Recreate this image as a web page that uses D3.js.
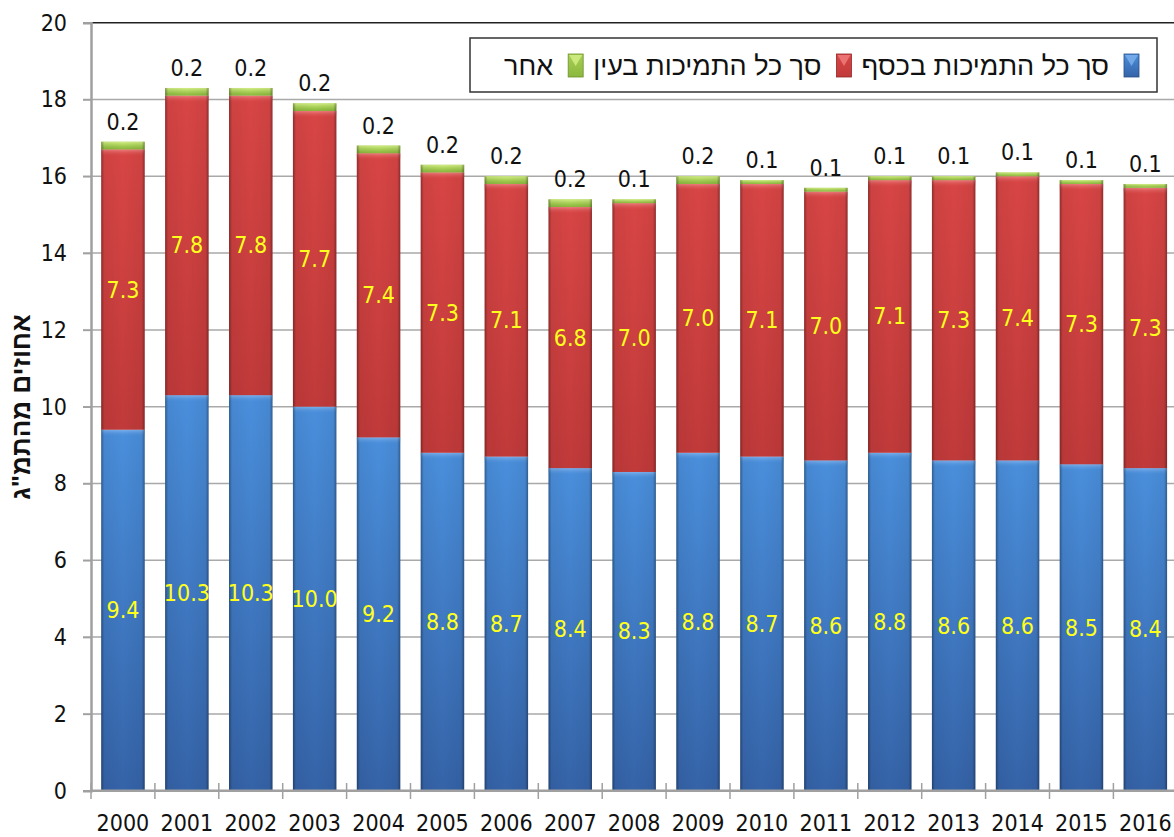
<!DOCTYPE html>
<html><head><meta charset="utf-8">
<script src="https://cdn.jsdelivr.net/npm/d3@7"></script>
<style>body{margin:0;background:#fff}svg{display:block}</style>
</head><body>
<script>
const years = ["2000","2001","2002","2003","2004","2005","2006","2007","2008","2009","2010","2011","2012","2013","2014","2015","2016"];
const cashSupport = [9.4,10.3,10.3,10.0,9.2,8.8,8.7,8.4,8.3,8.8,8.7,8.6,8.8,8.6,8.6,8.5,8.4];
const inKindSupport = [7.3,7.8,7.8,7.7,7.4,7.3,7.1,6.8,7.0,7.0,7.1,7.0,7.1,7.3,7.4,7.3,7.3];
const otherSupport = [0.2,0.2,0.2,0.2,0.2,0.2,0.2,0.2,0.1,0.2,0.1,0.1,0.1,0.1,0.1,0.1,0.1];
const seriesNames = ["סך כל התמיכות בכסף","סך כל התמיכות בעין","אחר"];
const yTicks = [0,2,4,6,8,10,12,14,16,18,20];
const yTitle = "אחוזים מהתמ\"ג";

const W=1174,H=837;
const svg=d3.select("body").append("svg").attr("width",W).attr("height",H);
const defs=svg.append("defs");
const FONT="'DejaVu Sans Condensed', 'DejaVu Sans', Verdana, sans-serif";
const FS=23;
const HEB="'Liberation Sans', Arial, sans-serif";

const x=d3.scaleBand().domain(years).range([91,1177.3]).paddingInner(0.32).paddingOuter(0.16);
const y=d3.scaleLinear().domain([0,20]).range([790.7,22.7]);

const colors=[
  {top:"#4a8fdc",bot:"#3563a8",hi:"#7fb2ee",edge:"#2a4f86"},
  {top:"#d84545",bot:"#c13a3a",hi:"#f08080",edge:"#8e2727"},
  {top:"#a6d052",bot:"#8cb83f",hi:"#d6f08a",edge:"#6c8f2c"}
];
colors.forEach((c,i)=>{
  const g=defs.append("linearGradient").attr("id","v"+i).attr("x1",0).attr("y1",0).attr("x2",0).attr("y2",1);
  g.append("stop").attr("offset","0%").attr("stop-color",c.top);
  g.append("stop").attr("offset","100%").attr("stop-color",c.bot);
  const h=defs.append("linearGradient").attr("id","hl"+i).attr("x1",0).attr("y1",0).attr("x2",0).attr("y2",1);
  h.append("stop").attr("offset","0%").attr("stop-color",c.hi).attr("stop-opacity",0.95);
  h.append("stop").attr("offset","100%").attr("stop-color",c.top).attr("stop-opacity",0);
});
const eg=defs.append("linearGradient").attr("id","edges").attr("x1",0).attr("y1",0).attr("x2",1).attr("y2",0);
[[0,0.35],[0.07,0.05],[0.5,0],[0.93,0.05],[1,0.35]].forEach(([o,a])=>eg.append("stop").attr("offset",o).attr("stop-color","#000").attr("stop-opacity",a));

// gridlines
svg.append("g").selectAll("line").data(yTicks.filter(t=>t>0&&t<20)).join("line")
  .attr("x1",83).attr("x2",W).attr("y1",d=>y(d)).attr("y2",d=>y(d))
  .attr("stroke","#a9a9a9").attr("stroke-width",1.5);
// top border
svg.append("line").attr("x1",91).attr("x2",W).attr("y1",y(20)).attr("y2",y(20)).attr("stroke","#222").attr("stroke-width",1.6);

// y axis
const yAxis=svg.append("g").attr("transform","translate(91,0)")
  .call(d3.axisLeft(y).tickValues(yTicks).tickSize(8).tickPadding(16).tickFormat(d3.format("d")));
yAxis.select(".domain").attr("stroke","#a0a0a0").attr("stroke-width",2.5);
yAxis.selectAll(".tick line").attr("stroke","#a0a0a0").attr("stroke-width",1.5);
yAxis.selectAll(".tick text").attr("font-family",FONT).attr("font-size",FS).attr("fill","#111");

// stacked data
const rows=years.map((yr,i)=>({year:yr,cash:cashSupport[i],kind:inKindSupport[i],other:otherSupport[i]}));
const stack=d3.stack().keys(["cash","kind","other"])(rows);

stack.forEach((layer,si)=>{
  const g=svg.append("g");
  const segs=g.selectAll("g").data(layer).join("g");
  segs.append("rect").attr("x",d=>x(d.data.year)).attr("width",x.bandwidth())
    .attr("y",d=>y(d[1])).attr("height",d=>y(d[0])-y(d[1])).attr("fill",`url(#v${si})`);
  segs.append("rect").attr("x",d=>x(d.data.year)).attr("width",x.bandwidth())
    .attr("y",d=>y(d[1])).attr("height",d=>Math.min(7,y(d[0])-y(d[1]))).attr("fill",`url(#hl${si})`);
  segs.append("rect").attr("x",d=>x(d.data.year)).attr("width",x.bandwidth())
    .attr("y",d=>y(d[1])).attr("height",d=>y(d[0])-y(d[1])).attr("fill","url(#edges)");
});

// labels
const fmt=d3.format(".1f");
[0,1].forEach(si=>{
  svg.append("g").selectAll("text").data(stack[si]).join("text")
    .attr("x",d=>x(d.data.year)+x.bandwidth()/2).attr("y",d=>y((d[0]+d[1])/2))
    .attr("text-anchor","middle").attr("dominant-baseline","central")
    .attr("font-family",FONT).attr("font-size",FS).attr("fill","#ffff1e")
    .text(d=>fmt(d[1]-d[0]));
});
svg.append("g").selectAll("text").data(stack[2]).join("text")
  .attr("x",d=>x(d.data.year)+x.bandwidth()/2).attr("y",d=>y(d[1])-12)
  .attr("text-anchor","middle").attr("font-family",FONT).attr("font-size",FS).attr("fill","#111")
  .text(d=>fmt(d[1]-d[0]));

// x axis
svg.append("line").attr("x1",91).attr("x2",W).attr("y1",y(0)).attr("y2",y(0)).attr("stroke","#a0a0a0").attr("stroke-width",2.5);
const step=x.step();
svg.append("g").selectAll("line").data(years).join("line")
  .attr("x1",d=>x(d)-x.paddingInner()*step/2).attr("x2",d=>x(d)-x.paddingInner()*step/2)
  .attr("y1",783).attr("y2",799).attr("stroke","#a0a0a0").attr("stroke-width",1.5);
svg.append("g").selectAll("text").data(years).join("text")
  .attr("x",d=>x(d)+x.bandwidth()/2).attr("y",831)
  .attr("text-anchor","middle").attr("font-family",FONT).attr("font-size",FS).attr("fill","#111").text(d=>d);

// y title
svg.append("text").attr("transform","translate(30,407) rotate(-90)")
  .attr("text-anchor","middle").attr("font-family",HEB).attr("font-weight","bold").attr("font-size",26).attr("fill","#111").text(yTitle);

// legend
const lg=svg.append("g");
lg.append("rect").attr("x",470).attr("y",38).attr("width",687).attr("height",54).attr("fill","#fff").attr("stroke","#333").attr("stroke-width",1.5);
let cursor=1139;
seriesNames.forEach((name,i)=>{
  const c=colors[i];
  lg.append("rect").attr("x",cursor-15).attr("y",54).attr("width",15).attr("height",23).attr("fill",`url(#v${i})`).attr("stroke",c.edge).attr("stroke-width",0.8);
  lg.append("path").attr("d",`M${cursor-14},55 L${cursor-1},55 L${cursor-7.5},66 Z`).attr("fill",c.hi).attr("opacity",0.8);
  const t=lg.append("text").attr("x",cursor-30).attr("y",66).attr("dominant-baseline","central")
    .attr("text-anchor","end").attr("font-family",HEB).attr("font-size",27).attr("fill","#111").text(name);
  cursor=cursor-30-t.node().getComputedTextLength()-10;
});
</script>
</body></html>
